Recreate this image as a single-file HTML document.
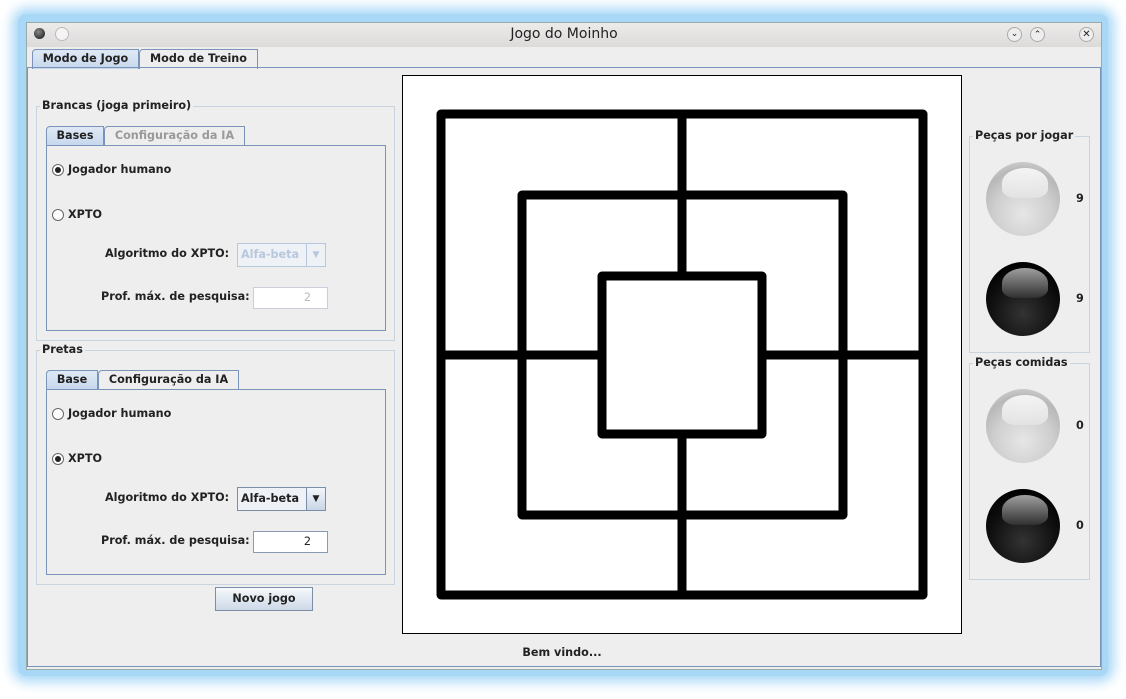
<!DOCTYPE html>
<html><head><meta charset="utf-8">
<style>
body{margin:0;width:1126px;height:699px;background:#fff;position:relative;overflow:hidden;font-family:"DejaVu Sans","Liberation Sans",sans-serif;font-size:11.2px;color:#222;}
.a{position:absolute;}
.b{font-weight:bold;}
.fs{position:absolute;border:1px solid #c8d4e0;}
.leg{position:absolute;background:#eeeeee;padding:0 2px;font-weight:bold;}
.tabp{position:absolute;border:1px solid #7a93b8;background:#eeeeee;}
.tab{position:absolute;border:1px solid #7a93b8;border-bottom:none;background:#eeeeee;font-weight:bold;text-align:center;line-height:18px;border-radius:4px 0 0 0;}
.tab.sel{background:linear-gradient(#dfe9f5,#c6d7ec);}
.radio{position:absolute;width:10px;height:10px;border:1px solid #666;border-radius:50%;background:#fff;}
.radio.on::after{content:"";position:absolute;left:2px;top:2px;width:6px;height:6px;border-radius:50%;background:#222;}
.combo{position:absolute;border:1px solid #7a8ea8;background:#eef2f7;height:22px;line-height:22px;font-weight:bold;padding-left:3px;}
.spin{position:absolute;border:1px solid #8a9ab0;background:#fff;height:20px;line-height:20px;text-align:right;}
.ball{position:absolute;width:74px;height:74px;border-radius:50%;}
.white{background:radial-gradient(circle at 50% 70%,#e6e6e6 0%,#cfcfcf 45%,#b8b8b8 70%,#e8e8e8 100%);}
.black{background:radial-gradient(circle at 50% 70%,#333 0%,#111 50%,#000 80%,#444 100%);}
.gl{position:absolute;left:16px;top:6px;width:46px;height:30px;border-radius:50% 50% 30% 30%;opacity:.85;}
</style></head><body>
<div class="a" style="left:18px;top:14px;width:1090px;height:662px;border-radius:8px;box-shadow:0 0 12px 6px #a9d8f7;background:#a9d8f7;"></div>
<div class="a" style="left:26px;top:22px;width:1074px;height:646px;background:#eeeeee;border:1px solid #9aa;">
 <div class="a" style="left:0;top:0;width:1074px;height:24px;background:linear-gradient(#ecebea,#dcdbda);">
  <div class="a" style="left:7px;top:5px;width:11px;height:11px;border-radius:50%;background:radial-gradient(circle at 40% 35%,#888,#111);"></div>
  <div class="a" style="left:28px;top:4px;width:12px;height:12px;border-radius:50%;border:1px solid #bbb;background:#f4f4f4;"></div>
  <div class="a" style="left:0;width:1074px;top:3px;text-align:center;font-size:14px;font-family:'DejaVu Sans',sans-serif;">Jogo do Moinho</div>
  <div class="a" style="left:980px;top:4px;width:13px;height:13px;border-radius:50%;border:1px solid #aaa;background:#eee;font-size:9px;text-align:center;line-height:13px;">⌄</div>
  <div class="a" style="left:1003px;top:4px;width:13px;height:13px;border-radius:50%;border:1px solid #aaa;background:#eee;font-size:9px;text-align:center;line-height:15px;">⌃</div>
  <div class="a" style="left:1052px;top:4px;width:13px;height:13px;border-radius:50%;border:1px solid #aaa;background:#eee;font-size:10px;text-align:center;line-height:13px;">✕</div>
 </div>
 <div class="tab sel" style="left:5px;top:26px;width:105px;height:19px;">Modo de Jogo</div>
 <div class="tab" style="left:112px;top:26px;width:117px;height:19px;">Modo de Treino</div>
 <div class="a" style="left:0;top:44px;width:1072px;height:598px;border:1px solid #7a93b8;"></div>
</div>

<div class="fs" style="left:36px;top:106px;width:357px;height:233px;"></div>
<div class="leg" style="left:40px;top:99px;">Brancas (joga primeiro)</div>
<div class="tab sel" style="left:46px;top:126px;width:56px;height:19px;">Bases</div>
<div class="tab" style="left:104px;top:126px;width:139px;height:19px;color:#999;">Configuração da IA</div>
<div class="tabp" style="left:46px;top:145px;width:338px;height:184px;"></div>
<div class="radio on" style="left:52px;top:164px;"></div>
<div class="a b" style="left:68px;top:163px;">Jogador humano</div>
<div class="radio" style="left:52px;top:209px;"></div>
<div class="a b" style="left:68px;top:208px;">XPTO</div>
<div class="a b" style="left:105px;top:247px;">Algoritmo do XPTO:</div>
<div class="combo" style="left:237px;top:243px;width:84px;color:#b8c8dc;border-color:#b8c8dc;">Alfa-beta<span style="position:absolute;right:0;top:0;width:18px;height:22px;border-left:1px solid #b8c8dc;text-align:center;font-size:9px;">▼</span></div>
<div class="a b" style="left:101px;top:290px;">Prof. máx. de pesquisa:</div>
<div class="spin" style="left:253px;top:287px;width:57px;color:#bbb;border-color:#ccd;padding-right:16px;">2</div>

<div class="fs" style="left:36px;top:350px;width:357px;height:233px;"></div>
<div class="leg" style="left:40px;top:343px;">Pretas</div>
<div class="tab sel" style="left:46px;top:370px;width:50px;height:19px;">Base</div>
<div class="tab" style="left:98px;top:370px;width:139px;height:19px;">Configuração da IA</div>
<div class="tabp" style="left:46px;top:389px;width:338px;height:184px;"></div>
<div class="radio" style="left:52px;top:408px;"></div>
<div class="a b" style="left:68px;top:407px;">Jogador humano</div>
<div class="radio on" style="left:52px;top:453px;"></div>
<div class="a b" style="left:68px;top:452px;">XPTO</div>
<div class="a b" style="left:105px;top:491px;">Algoritmo do XPTO:</div>
<div class="combo" style="left:237px;top:487px;width:84px;">Alfa-beta<span style="position:absolute;right:0;top:0;width:18px;height:22px;border-left:1px solid #7a8ea8;text-align:center;font-size:9px;background:linear-gradient(#f3f6fa,#c9d6e6);">▼</span></div>
<div class="a b" style="left:101px;top:534px;">Prof. máx. de pesquisa:</div>
<div class="spin" style="left:253px;top:531px;width:57px;padding-right:16px;">2</div>

<div class="a b" style="left:215px;top:587px;width:96px;height:22px;border:1px solid #7a8ea8;background:linear-gradient(#f6f8fb,#cdd9e8);text-align:center;line-height:22px;">Novo jogo</div>

<svg class="a" style="left:402px;top:75px;" width="560" height="560" viewBox="402 75 560 560">
 <rect x="402.5" y="75.5" width="559" height="558" fill="#fff" stroke="#000"/>
 <g fill="none" stroke="#000" stroke-width="9" stroke-linejoin="round" stroke-linecap="round">
  <rect x="441" y="114" width="482" height="481"/>
  <rect x="522" y="195" width="321" height="320"/>
  <rect x="602" y="276" width="160" height="158"/>
  <line x1="682" y1="114" x2="682" y2="276"/>
  <line x1="682" y1="434" x2="682" y2="595"/>
  <line x1="441" y1="355" x2="602" y2="355"/>
  <line x1="762" y1="355" x2="923" y2="355"/>
 </g>
</svg>

<div class="fs" style="left:969px;top:136px;width:119px;height:215px;"></div>
<div class="leg" style="left:973px;top:129px;">Peças por jogar</div>
<div class="ball white" style="left:986px;top:162px;"><div class="gl" style="background:linear-gradient(#fff,#e4e4e4);"></div></div>
<div class="a b" style="left:1076px;top:192px;">9</div>
<div class="ball black" style="left:986px;top:262px;"><div class="gl" style="background:linear-gradient(#bbb,#333);"></div></div>
<div class="a b" style="left:1076px;top:292px;">9</div>

<div class="fs" style="left:969px;top:363px;width:119px;height:215px;"></div>
<div class="leg" style="left:973px;top:356px;">Peças comidas</div>
<div class="ball white" style="left:986px;top:389px;"><div class="gl" style="background:linear-gradient(#fff,#e4e4e4);"></div></div>
<div class="a b" style="left:1076px;top:419px;">0</div>
<div class="ball black" style="left:986px;top:489px;"><div class="gl" style="background:linear-gradient(#bbb,#333);"></div></div>
<div class="a b" style="left:1076px;top:519px;">0</div>

<div class="a b" style="left:462px;width:200px;top:646px;text-align:center;">Bem vindo...</div>
</body></html>
